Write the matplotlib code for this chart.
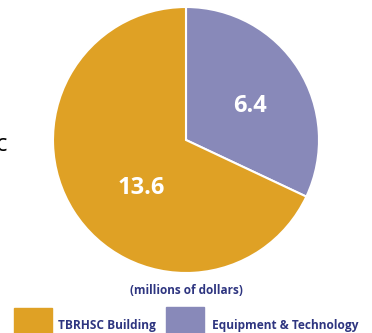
import matplotlib.pyplot as plt
from matplotlib.patches import Rectangle

labels = ['Equipment & Technology', 'TBRHSC Building']
values = [6.4, 13.6]
colors = ['#8889B9', '#DFA125']
value_text = ['6.4', '13.6']

W, H = 372, 333
fig = plt.figure(figsize=(W / 100, H / 100), dpi=100)
ax = fig.add_axes([0, 0, 1, 1])

cx, cy, r = 186, H - 140, 133
wedges, _ = ax.pie(values, colors=colors, startangle=90, counterclock=False,
                   center=(cx, cy), radius=r, frame=True,
                   wedgeprops=dict(edgecolor='white', linewidth=1.5))

# value labels inside the slices
ax.text(250, H - 106, value_text[0], ha='center', va='center', color='white',
        fontsize=17, fontweight='bold', family='Open Sans')
ax.text(141, H - 188, value_text[1], ha='center', va='center', color='white',
        fontsize=17, fontweight='bold', family='Open Sans')

ax.text(186, H - 291, '(millions of dollars)', ha='center', va='center',
        color='#2E3580', fontsize=8.5, fontweight='bold', family='Open Sans')

# cut-off text at the left edge
ax.text(7, H - 145, 'c', ha='right', va='center', color='black',
        fontsize=17, family='Open Sans')

# legend squares
ax.add_patch(Rectangle((14, 0), 38, H - 308, color=colors[1]))
ax.add_patch(Rectangle((166, 0), 38, H - 307, color=colors[0]))
ax.text(58, H - 325, labels[1], ha='left', va='center', color='#2E3580',
        fontsize=8.6, fontweight='bold', family='Open Sans')
ax.text(212, H - 326, labels[0], ha='left', va='center', color='#2E3580',
        fontsize=8.6, fontweight='bold', family='Open Sans')

ax.set_xlim(0, W)
ax.set_ylim(0, H)
ax.set_aspect('auto')
ax.set_axis_off()

fig.savefig('out.png', dpi=100)
